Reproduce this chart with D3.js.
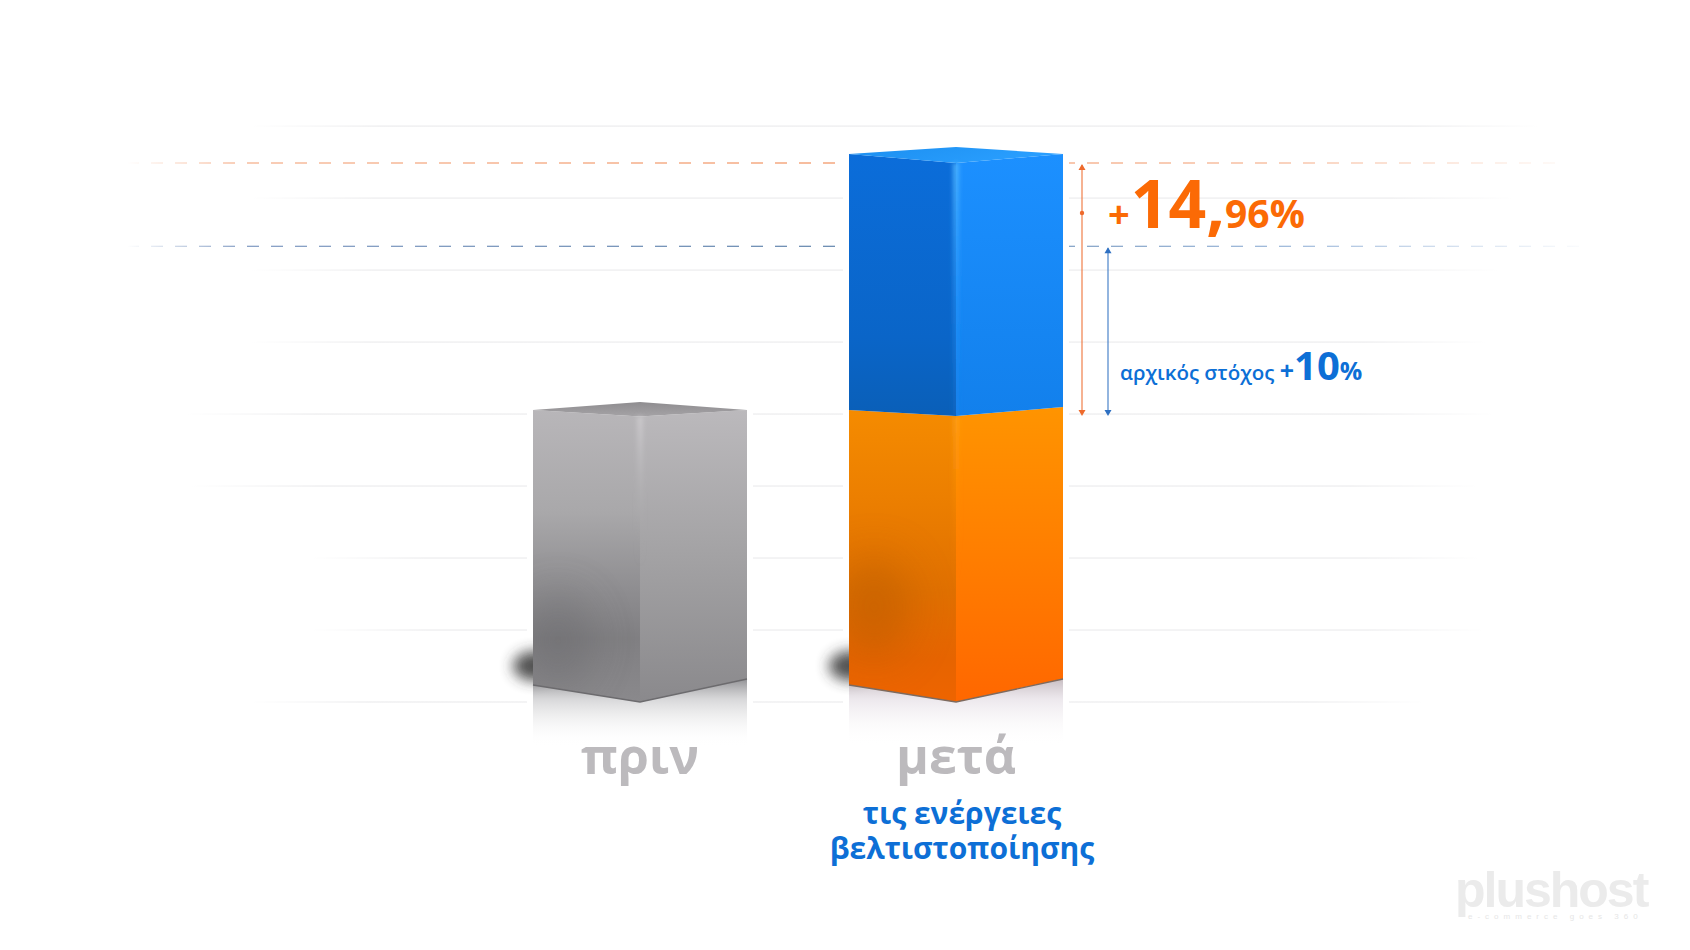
<!DOCTYPE html>
<html><head><meta charset="utf-8">
<script src="https://cdn.jsdelivr.net/npm/d3@7"></script>
<style>html,body{margin:0;padding:0;background:#fff;overflow:hidden}svg{display:block;font-family:"Open Sans",sans-serif}</style>
</head><body><svg id="c" width="1690" height="950"></svg>
<script>
// ---- data (index: before = 100; the value axis is truncated at the floor line)
const categories = ["πριν", "μετά"];
const beforeValue = 100;
const targetValue = 110;
const afterValue = 114.96;
const floorValue = 82.84;
const gridValues = [82.84, 87.13, 91.42, 95.71, 100, 104.29, 108.58, 112.87, 117.16];
const subtitleLines = ["τις ενέργειες", "βελτιστοποίησης"];

// ---- layout
const W = 1690, H = 950;
const gridExtents = [[250,1425],[310,1485],[310,1480],[190,1480],[185,1495],[250,1488],[250,1500],[250,1515],[250,1540]];
const halfW = 107;
const svg = d3.select("#c");
const y = d3.scaleLinear().domain([floorValue, afterValue]).range([702, 163]);
const x = d3.scalePoint().domain(categories).range([640, 956]);
const defs = svg.append("defs");
function lin(id, stops, a) {
  const g = defs.append("linearGradient").attr("id", id);
  const o = a || {x1:0,y1:0,x2:0,y2:1};
  Object.entries(o).forEach(([k,v]) => g.attr(k,v));
  stops.forEach(s => g.append("stop").attr("offset",s[0]).attr("stop-color",s[1]).attr("stop-opacity",s[2]===undefined?1:s[2]));
}
lin("gL",[[0,"#b8b6b9"],[.35,"#a9a8aa"],[.62,"#8e8d90"],[.78,"#807f82"],[1,"#8a898c"]]);
lin("gR",[[0,"#bbb9bc"],[.5,"#a3a2a4"],[1,"#8a898c"]]);
lin("gT",[[0,"#8f8d90"],[1,"#a5a3a6"]]);
lin("gE",[[0,"#cfcdd0",.8],[.55,"#b5b4b6",.3],[1,"#999",0]]);
lin("oL",[[0,"#f58b00"],[.3,"#ec7f00"],[.62,"#e07000"],[.85,"#e66400"],[1,"#ee6400"]]);
lin("oR",[[0,"#ff9400"],[.5,"#ff7e00"],[1,"#ff6700"]]);
lin("oE",[[0,"#ffa21f",.7],[.6,"#ff8a00",.25],[1,"#ff7a00",0]]);
lin("bL",[[0,"#0b6dda"],[.7,"#0a65c8"],[1,"#0a5fb8"]]);
lin("bR",[[0,"#1c90ff"],[1,"#1280ec"]]);
lin("bT",[[0,"#1c8ff0"],[1,"#2a9fff"]],{x1:0,y1:0,x2:1,y2:.3});
lin("bE",[[0,"#4db4ff",.9],[.5,"#2f9dff",.5],[1,"#1f88ee",.15]]);
lin("refl",[[0,"#77777b",.8],[.3,"#b0b0b3",.5],[1,"#fff",0]]);
lin("reflO",[[0,"#b5a8ae",.75],[.3,"#ddd5de",.55],[1,"#fff",0]]);
lin("dashO",[[0,"#f08a55",0],[.08,"#f08a55",.85],[.5,"#ee7a3d",1],[.8,"#f08a55",.8],[1,"#f08a55",.1]],{x1:0,y1:0,x2:1,y2:0});
lin("dashB",[[0,"#4a6fa8",0],[.08,"#4a6fa8",.85],[.5,"#3f6a9a",1],[.8,"#6f97c9",.85],[1,"#6f97c9",.05]],{x1:0,y1:0,x2:1,y2:0});
lin("grid",[[0,"#e8e8ea",0],[.1,"#e8e8ea",1],[.9,"#e8e8ea",1],[1,"#e8e8ea",0]],{x1:0,y1:0,x2:1,y2:0});
const blur=(id,s)=>defs.append("filter").attr("id",id).attr("x","-100%").attr("y","-100%").attr("width","300%").attr("height","300%").append("feGaussianBlur").attr("stdDeviation",s);
blur("b8",7); blur("b14",22); blur("b1",2); blur("b0",.6);

// ---- grid lines
svg.append("g").selectAll("rect").data(gridValues).join("rect")
  .attr("x",(d,i)=>gridExtents[i][0]).attr("width",(d,i)=>gridExtents[i][1]-gridExtents[i][0])
  .attr("y",d=>y(d)-.5).attr("height",1).attr("fill","url(#grid)");

// ---- dashed reference lines
const dashes = [[afterValue,127,1580,"url(#dashO)"],[targetValue,127,1606,"url(#dashB)"]];
const dg = svg.append("g");
dashes.forEach(d=>{
  const n = Math.floor((d[2]-d[1])/24);
  dg.append("path").attr("d",d3.range(n).map(i=>`M${d[1]+i*24} 0h12v1.1h-12z`).join(""))
    .attr("transform",`translate(0,${y(d[0])-.5})`).attr("fill",d[3]);
});

// ---- box geometry derived from scales; offsets give the perspective
function corners(cx, v, off){ const yy=y(v);
  return {l:[cx-halfW,yy+off[0]], f:[cx,yy+off[1]], r:[cx+halfW,yy+off[2]], b:[cx,yy+off[3]]}; }
const botOff=[-17,0,-23,0], midOff=[-4,2,-7,0], grayOff=[-4,2.5,-4,-12], topOff=[-9,0,-9,-16];
const P=a=>"M"+a.map(p=>p.join(",")).join("L")+"Z";
function face(a,fill){ svg.append("path").attr("d",P(a)).attr("fill",fill); }
function halo(cx,hi,ht){
  const a=corners(cx,floorValue,botOff), t=corners(cx,hi,ht);
  svg.append("path").attr("d",P([[a.l[0],a.f[1]],[a.r[0],a.f[1]],t.r,t.l])).attr("fill","#fff").attr("stroke","#fff").attr("stroke-width",12);
}
function floorFx(cx, reflId){
  const c=corners(cx,floorValue,botOff);
  const g=svg.append("g");
  g.append("ellipse").attr("cx",cx-halfW+2).attr("cy",y(floorValue)-36).attr("rx",22).attr("ry",15)
     .attr("fill","#333").attr("opacity",.85).attr("filter","url(#b8)");
  g.append("path").attr("d",P([[c.l[0],c.l[1]],c.f,[c.r[0],c.r[1]],[c.r[0],y(floorValue)+44],[c.l[0],y(floorValue)+44]])).attr("fill",`url(#${reflId})`);
}
function block(cx,lo,hi,lt,ht,grad){
  const a=corners(cx,lo,lt), t=corners(cx,hi,ht);
  face([t.l,t.f,a.f,a.l],`url(#${grad}L)`);
  face([t.f,t.r,a.r,a.f],`url(#${grad}R)`);
}
function blotch(cx,vCenter,color,op,id,top){
  const cp=defs.append("clipPath").attr("id",id);
  const a=corners(cx,floorValue,botOff), t=corners(cx,beforeValue,top);
  cp.append("path").attr("d",P([t.l,t.f,a.f,a.l]));
  svg.append("g").attr("clip-path",`url(#${id})`).append("ellipse")
    .attr("cx",cx-halfW+25).attr("cy",y(vCenter)).attr("rx",36).attr("ry",50)
    .attr("fill",color).attr("opacity",op).attr("filter","url(#b14)");
}
function edge(cx,y0,y1,g){ svg.append("rect").attr("x",cx-3).attr("y",y0).attr("width",6).attr("height",y1-y0).attr("fill",`url(#${g})`).attr("filter","url(#b1)"); }
function bottomLine(cx,color){ const b=corners(cx,floorValue,botOff);
  svg.append("path").attr("d",`M${b.l}L${b.f}L${b.r}`).attr("fill","none").attr("stroke",color).attr("stroke-width",1.4); }

const cx0=x(categories[0]), cx1=x(categories[1]);
halo(cx0,beforeValue,grayOff); halo(cx1,afterValue,topOff);
floorFx(cx0,"refl"); floorFx(cx1,"reflO");

// grey box
block(cx0,floorValue,beforeValue,botOff,grayOff,"g");
blotch(cx0,86.5,"#5c5b5e",.3,"cg",grayOff);
{const t=corners(cx0,beforeValue,grayOff); face([t.l,t.b,t.r,t.f],"url(#gT)");
 edge(cx0,t.f[1],y(91),"gE"); bottomLine(cx0,"#6c6b6e");}

// orange + blue stack
block(cx1,floorValue,beforeValue,botOff,midOff,"o");
blotch(cx1,88.5,"#b55a00",.5,"co",midOff);
{const t=corners(cx1,beforeValue,midOff); edge(cx1,t.f[1],y(90),"oE"); bottomLine(cx1,"#7d6a5f");}
block(cx1,beforeValue,afterValue,midOff,topOff,"b");
{const t=corners(cx1,afterValue,topOff); face([t.l,t.b,t.r,t.f],"url(#bT)");
 edge(cx1,t.f[1],y(beforeValue)+2,"bE");}

// ---- measure arrows
function arrow(ax,v0,v1,color,dot){
  const g=svg.append("g").attr("fill",color);
  g.append("rect").attr("x",ax-.6).attr("y",y(v1)+2).attr("width",1.2).attr("height",y(v0)-y(v1)-2).attr("opacity",.85);
  g.append("path").attr("d",`M${ax} ${y(v1)+1}l-3.5 6h7z`);
  g.append("path").attr("d",`M${ax} ${y(v0)+2}l-3.5 -6h7z`);
  if(dot) g.append("circle").attr("cx",ax).attr("cy",dot).attr("r",2.2);
}
arrow(1082,beforeValue,afterValue,"#ee6a2c",213);
arrow(1108,beforeValue,targetValue,"#2e70c2");

// ---- labels
const T=(tx,ty,size,weight,color,anchor)=>svg.append("text").attr("x",tx).attr("y",ty).attr("font-size",size).attr("font-weight",weight).attr("fill",color).attr("text-anchor",anchor||"start");
const orange="#fb6a05", blue="#0d6fd6";
const t1=T(1108,228,38,700,orange);
t1.append("tspan").text("+");
t1.append("tspan").text("14,").attr("font-size",66).attr("dx",1);
t1.append("tspan").text("96%").attr("font-size",39).attr("dx",0);
const t2=T(1120,380,20.5,600,blue);
t2.append("tspan").text("αρχικός στόχος ");
t2.append("tspan").text("+").attr("font-size",25).attr("font-weight",700);
t2.append("tspan").text("10").attr("font-size",40).attr("font-weight",700);
t2.append("tspan").text("%").attr("font-size",25).attr("font-weight",700);
svg.append("g").selectAll("text").data(categories).join("text")
  .attr("x",d=>x(d)).attr("y",774).attr("text-anchor","middle").attr("font-size",50).attr("font-weight",700).attr("fill","#bcbabd").text(d=>d);
svg.append("g").selectAll("text").data(subtitleLines).join("text")
  .attr("x",962).attr("y",(d,i)=>824+i*35).attr("text-anchor","middle").attr("font-size",30).attr("font-weight",700).attr("fill",blue).text(d=>d);

// ---- watermark
T(1455,907,50,700,"#ebebeb").attr("font-family","Liberation Sans").attr("letter-spacing",-2).attr("filter","url(#b0)").text("plushost");
T(1468,919,8,400,"#e6e6e6").attr("font-family","Liberation Sans").attr("letter-spacing",5).text("e-commerce goes 360");
</script></body></html>
